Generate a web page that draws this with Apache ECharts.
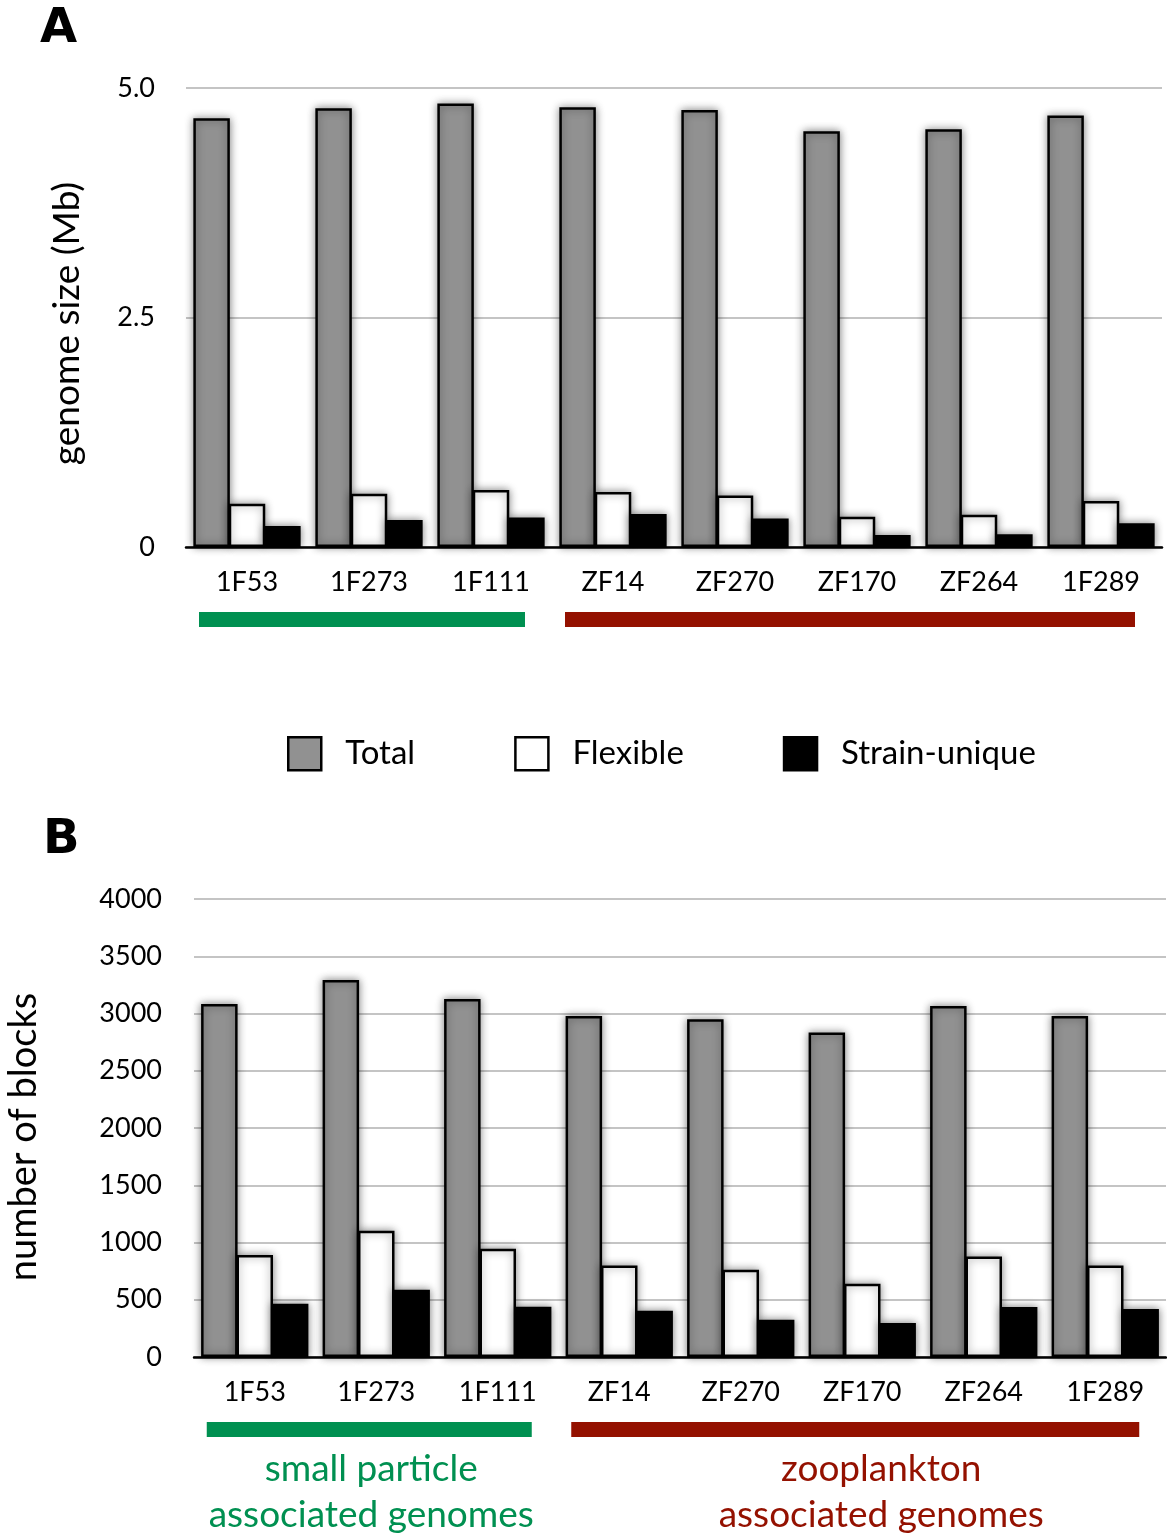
<!DOCTYPE html>
<html>
<head>
<meta charset="utf-8">
<script src="https://cdn.jsdelivr.net/npm/echarts@6/dist/echarts.min.js"></script>
<style>
html, body { margin: 0; padding: 0; background: #fff; }
#chart { width: 1167px; height: 1539px; }
</style>
</head>
<body>
<div id="chart"></div>
<script>
var strains = ['1F53', '1F273', '1F111', 'ZF14', 'ZF270', 'ZF170', 'ZF264', '1F289'];
var sizeTotal = [4.67, 4.78, 4.83, 4.79, 4.76, 4.53, 4.55, 4.70];
var sizeFlexible = [0.47, 0.58, 0.62, 0.60, 0.56, 0.33, 0.35, 0.50];
var sizeUnique = [0.23, 0.295, 0.32, 0.36, 0.31, 0.13, 0.14, 0.26];
var blocksTotal = [3083, 3292, 3127, 2978, 2949, 2833, 3066, 2978];
var blocksFlexible = [890, 1102, 945, 800, 762, 640, 878, 800];
var blocksUnique = [465, 587, 439, 404, 325, 297, 436, 419];
var seriesNames = ['Total', 'Flexible', 'Strain-unique'];
var groupNames = ['small particle\nassociated genomes', 'zooplankton\nassociated genomes'];
var groupFirst = [0, 3];
var groupLast = [2, 7];

var FONT = 'Lato';
var fills = ['#919191', '#ffffff', '#000000'];
var groupColors = ['#009051', '#941100'];

var chart = echarts.init(document.getElementById('chart'));

function barSeries(name, data, idx, axis) {
    return {
        name: name,
        type: 'bar',
        xAxisIndex: axis,
        yAxisIndex: axis,
        data: data,
        barWidth: 36.5,
        barGap: '-3%',
        itemStyle: {
            color: fills[idx],
            borderColor: '#000',
            borderWidth: 2.5,
            shadowBlur: 8,
            shadowColor: 'rgba(0,0,0,0.45)'
        },
        emphasis: { disabled: true }
    };
}

function xAxisDef(gridIdx) {
    return {
        type: 'category',
        gridIndex: gridIdx,
        data: strains,
        axisTick: { show: false },
        axisLine: { lineStyle: { color: '#000', width: 2.5 } },
        axisLabel: { color: '#000', fontFamily: FONT, fontSize: 27, margin: 22, interval: 0 }
    };
}

var option = {
    animation: false,
    backgroundColor: '#fff',
    legend: {
        data: seriesNames,
        left: 282,
        top: 731,
        icon: 'rect',
        itemWidth: 33,
        itemHeight: 33,
        itemGap: 99,
        itemStyle: { borderColor: '#000', borderWidth: 2.5, shadowBlur: 0 },
        textStyle: { color: '#000', fontFamily: FONT, fontSize: 33, padding: [0, 0, 0, 19] },
        selectedMode: false
    },
    grid: [
        { left: 186, top: 88, width: 976, height: 459, outerBoundsMode: 'none' },
        { left: 194, top: 899, width: 972, height: 458, outerBoundsMode: 'none' }
    ],
    xAxis: [xAxisDef(0), xAxisDef(1)],
    yAxis: [
        {
            type: 'value',
            gridIndex: 0,
            min: 0,
            max: 5,
            interval: 2.5,
            name: 'genome size (Mb)',
            nameLocation: 'middle',
            nameGap: 100,
            nameTextStyle: { color: '#000', fontFamily: FONT, fontSize: 37, padding: [0, 12, 0, 0] },
            axisLine: { show: false },
            axisTick: { show: false },
            axisLabel: {
                color: '#000', fontFamily: FONT, fontSize: 27, margin: 31,
                formatter: function (v) { return v === 0 ? '0' : v.toFixed(1); }
            },
            splitLine: { lineStyle: { color: '#c4c4c4', width: 2 } }
        },
        {
            type: 'value',
            gridIndex: 1,
            min: 0,
            max: 4000,
            interval: 500,
            name: 'number of blocks',
            nameLocation: 'middle',
            nameGap: 151,
            nameTextStyle: { color: '#000', fontFamily: FONT, fontSize: 38, padding: [0, 18, 0, 0] },
            axisLine: { show: false },
            axisTick: { show: false },
            axisLabel: {
                color: '#000', fontFamily: FONT, fontSize: 27, margin: 32,
                formatter: function (v) { return String(v); }
            },
            splitLine: { lineStyle: { color: '#c4c4c4', width: 2 } }
        }
    ],
    series: [
        barSeries(seriesNames[0], sizeTotal, 0, 0),
        barSeries(seriesNames[1], sizeFlexible, 1, 0),
        barSeries(seriesNames[2], sizeUnique, 2, 0),
        barSeries(seriesNames[0], blocksTotal, 0, 1),
        barSeries(seriesNames[1], blocksFlexible, 1, 1),
        barSeries(seriesNames[2], blocksUnique, 2, 1)
    ]
};

chart.setOption(option);

// panel letters, group brackets and group captions
var elements = [
    { type: 'text', left: 40, top: 6, style: { text: 'A', font: 'bold 48px "DejaVu Sans"', fill: '#000' } },
    { type: 'text', left: 43, top: 817, style: { text: 'B', font: 'bold 48px "DejaVu Sans"', fill: '#000' } }
];
var textShift = [2, 26];
[0, 1].forEach(function (axis) {
    var baseY = chart.convertToPixel({ yAxisIndex: axis }, 0);
    groupFirst.forEach(function (first, g) {
        var x0 = chart.convertToPixel({ xAxisIndex: axis }, strains[first]) - 48;
        var x1 = chart.convertToPixel({ xAxisIndex: axis }, strains[groupLast[g]]) + 34;
        elements.push({
            type: 'rect',
            shape: { x: x0, y: baseY + 65, width: x1 - x0, height: 15 },
            style: { fill: groupColors[g] }
        });
        if (axis === 1) {
            elements.push({
                type: 'text',
                x: (x0 + x1) / 2 + textShift[g],
                y: baseY + 89,
                style: {
                    text: groupNames[g],
                    fill: groupColors[g],
                    font: '37px ' + FONT,
                    textAlign: 'center',
                    textVerticalAlign: 'top',
                    lineHeight: 46
                }
            });
        }
    });
});
chart.setOption({ graphic: { elements: elements } });
</script>
</body>
</html>
